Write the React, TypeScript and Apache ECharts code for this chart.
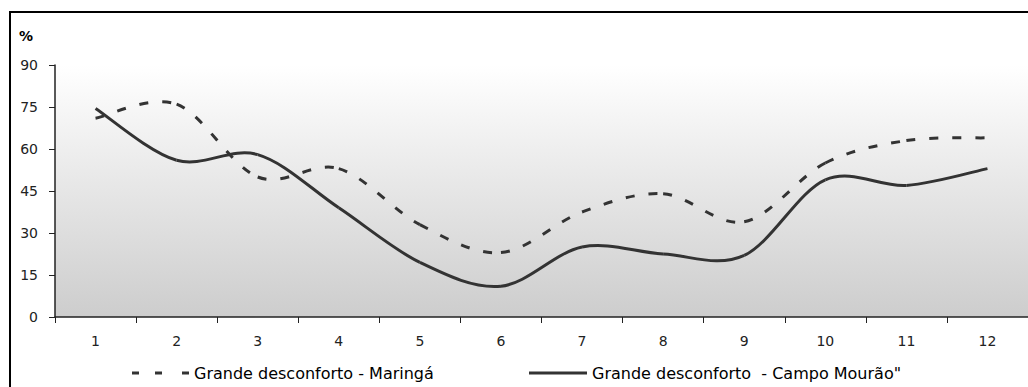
import React, { useEffect, useRef } from "react";
import * as echarts from "echarts";

const categories = ["1", "2", "3", "4", "5", "6", "7", "8", "9", "10", "11", "12"];
const maringa = [71, 76, 50, 53, 33, 23, 37.5, 44, 34, 55, 63, 64];
const campoMourao = [74.5, 56, 58, 39, 19.5, 11, 25, 22.5, 22, 49, 47, 53];
const yTicks = { min: 0, max: 90, interval: 15 };
const seriesNames = ["Grande desconforto - Maringá", "Grande desconforto  - Campo Mourão\""];

const FONT = "DejaVu Sans, Verdana, sans-serif";
const LINE_COLOR = "#333333";

function makeRenderItem(values: number[], dash: number[] | null) {
  return (params: any, api: any) => {
    const i = params.dataIndex;
    const n = values.length;
    if (i >= n - 1) return null;
    const c = (k: number) => Math.max(0, Math.min(n - 1, k));
    const pt = (k: number) => api.coord([c(k), values[c(k)]]);
    const p0 = pt(i - 1);
    const p1 = pt(i);
    const p2 = pt(i + 1);
    const p3 = pt(i + 2);
    return {
      type: "bezierCurve",
      shape: {
        x1: p1[0],
        y1: p1[1],
        x2: p2[0],
        y2: p2[1],
        cpx1: p1[0] + (p2[0] - p0[0]) / 6,
        cpy1: p1[1] + (p2[1] - p0[1]) / 6,
        cpx2: p2[0] - (p3[0] - p1[0]) / 6,
        cpy2: p2[1] - (p3[1] - p1[1]) / 6,
      },
      style: {
        stroke: LINE_COLOR,
        lineWidth: 3,
        fill: null,
        lineDash: dash || undefined,
      },
    };
  };
}

export default function App() {
  const ref = useRef<HTMLDivElement>(null);
  useEffect(() => {
    if (!ref.current) return;
    const chart = echarts.init(ref.current, null, { renderer: "svg" });
    chart.setOption({
      animation: false,
      backgroundColor: "#ffffff",
      grid: {
        left: 55,
        top: 65,
        width: 976,
        height: 252,
        show: true,
        borderWidth: 0,
        backgroundColor: new echarts.graphic.LinearGradient(0, 0, 0, 1, [
          { offset: 0, color: "#ffffff" },
          { offset: 1, color: "#cdcdcd" },
        ]),
      },
      graphic: [
        {
          type: "rect",
          shape: { x: 10, y: 12, width: 1100, height: 500 },
          style: { fill: "none", stroke: "#000000", lineWidth: 2 },
          z: 100,
        },
        {
          type: "text",
          x: 19,
          y: 29,
          style: { text: "%", fontFamily: FONT, fontSize: 14, fontWeight: "bold", fill: "#000" },
        },
      ],
      legend: [
        {
          data: [{ name: seriesNames[0], icon: "path://M0,0h7v3h-7zM23,0h7v3h-7zM50,0h7v3h-7z" }],
          left: 130,
          top: 362,
          itemWidth: 57,
          itemHeight: 3,
          itemGap: 0,
          padding: 2,
          textStyle: { fontFamily: FONT, fontSize: 16, color: "#000", lineHeight: 18 },
        },
        {
          data: [{ name: seriesNames[1], icon: "path://M0,0h58v3h-58z" }],
          left: 527,
          top: 362,
          itemWidth: 58,
          itemHeight: 3,
          itemGap: 0,
          padding: 2,
          textStyle: { fontFamily: FONT, fontSize: 16, color: "#000", lineHeight: 18 },
        },
      ],
      xAxis: {
        type: "category",
        data: categories,
        boundaryGap: true,
        axisLine: { lineStyle: { color: "#222", width: 1.5 } },
        axisTick: { show: true, length: 6, lineStyle: { color: "#222" } },
        axisLabel: { fontFamily: FONT, fontSize: 14, color: "#222", margin: 17 },
        splitLine: { show: false },
      },
      yAxis: {
        type: "value",
        min: yTicks.min,
        max: yTicks.max,
        interval: yTicks.interval,
        axisLine: { show: true, lineStyle: { color: "#222", width: 1.5 } },
        axisTick: { show: true, length: 6, lineStyle: { color: "#222" } },
        axisLabel: { fontFamily: FONT, fontSize: 14, color: "#222", margin: 17 },
        splitLine: { show: false },
      },
      series: [
        {
          name: seriesNames[0],
          type: "custom",
          renderItem: makeRenderItem(maringa, [9, 14]),
          data: maringa.map((v, i) => [i, v]),
          encode: { x: 0, y: 1 },
          itemStyle: { color: LINE_COLOR },
        },
        {
          name: seriesNames[1],
          type: "custom",
          renderItem: makeRenderItem(campoMourao, null),
          data: campoMourao.map((v, i) => [i, v]),
          encode: { x: 0, y: 1 },
          itemStyle: { color: LINE_COLOR },
        },
      ],
    });
    return () => chart.dispose();
  }, []);
  return (
    <div
      ref={ref}
      style={{ position: "fixed", left: 0, top: 0, width: 1028, height: 387 }}
    />
  );
}
